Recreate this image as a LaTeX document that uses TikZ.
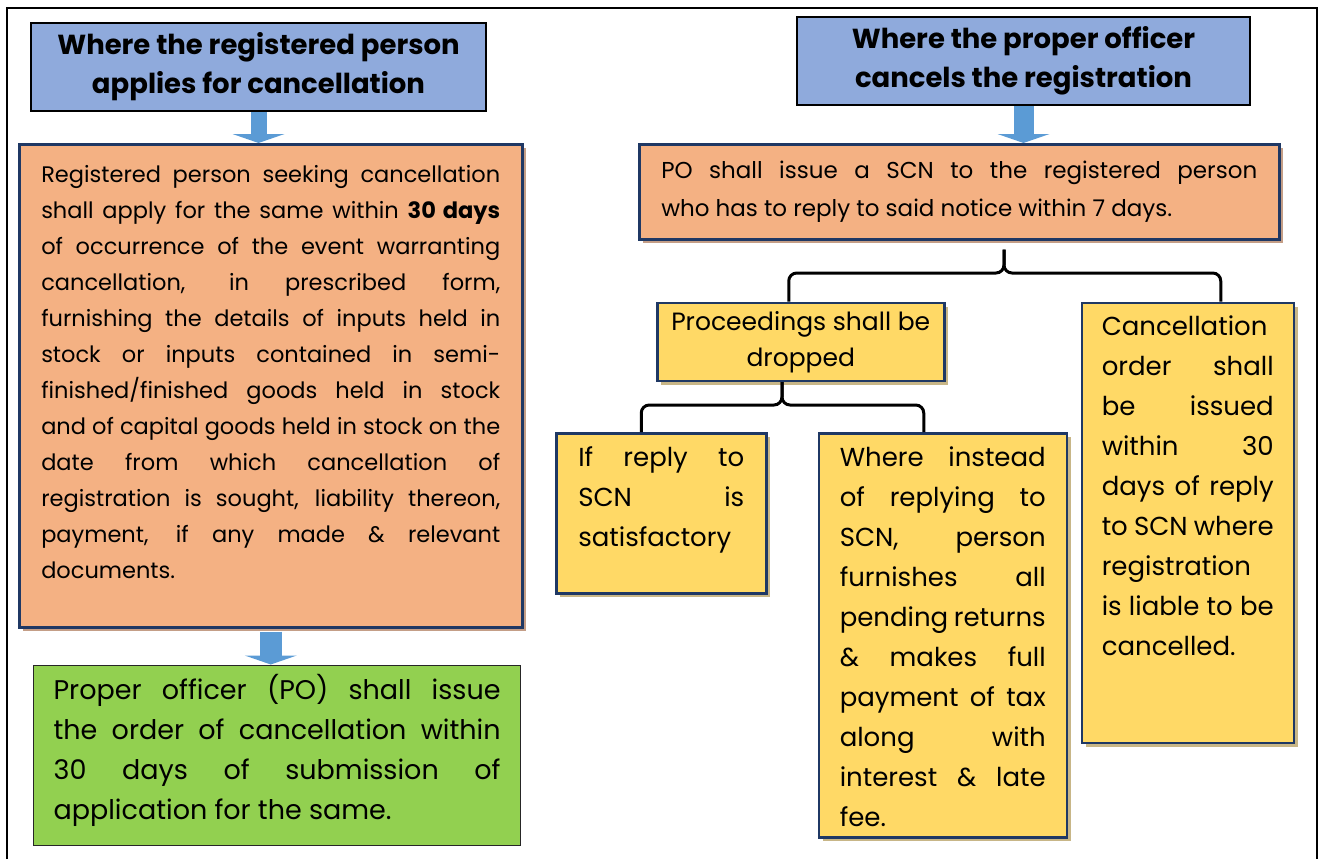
\documentclass[tikz,border=0pt]{standalone}
\usepackage{fontspec}
\setmainfont{Poppins}
\usepackage{tikz}
\usetikzlibrary{
  arrows.meta,
  positioning,
  calc,
  shadows
}
\definecolor{titleblue}{RGB}{143, 170, 220}
\definecolor{stepsalmon}{RGB}{244, 177, 131}
\definecolor{ordergreen}{RGB}{146, 208, 80}
\definecolor{caseyellow}{RGB}{255, 217, 102}
\definecolor{edgenavy}{RGB}{31, 56, 100}
\definecolor{flowblue}{RGB}{91, 155, 213}
\definecolor{shadesalmon}{RGB}{196, 158, 135}
\definecolor{shadeyellow}{RGB}{200, 182, 135}
\newcommand{\bodytext}{\fontsize{22.5}{36}\selectfont}
\newcommand{\bigtext}{\fontsize{26}{40}\selectfont}
\newcommand{\toptext}[3]{\parbox[c][#2][t]{#1}{\strut #3}}
\tikzset{
  headbox/.style = {
    rectangle, draw=black, line width=2pt,
    fill=titleblue, anchor=north west,
    align=center, font=\fontsize{27.5}{39}\selectfont\bfseries
  },
  stepbox/.style = {
    rectangle, draw=edgenavy, line width=2.5pt,
    fill=stepsalmon, anchor=north west, font=\bodytext,
    inner xsep=22pt,
    drop shadow={shadow xshift=4pt, shadow yshift=-4pt,
                 fill=shadesalmon, opacity=1}
  },
  casebox/.style = {
    rectangle, draw=edgenavy, line width=2.5pt,
    fill=caseyellow, anchor=north west, font=\bigtext,
    inner xsep=22pt, inner ysep=5pt,
    drop shadow={shadow xshift=4pt, shadow yshift=-4pt,
                 fill=shadeyellow, opacity=1}
  },
  orderbox/.style = {
    rectangle, draw=black!85, line width=1.2pt,
    fill=ordergreen, anchor=north west,
    font=\fontsize{27}{40}\selectfont,
    inner xsep=20pt, inner ysep=6pt
  },
  flow/.style = {-{Triangle[width=52pt, length=9pt, line width=0pt]},
                 draw=flowblue, line width=#1},
  flow/.default = 18pt,
  brace/.style = {draw=black, line width=3pt, rounded corners=8pt},
  frameline/.style = {draw=black, line width=2.2pt},
}

\begin{document}
\begin{tikzpicture}[x=1pt, y=-1pt]
  \useasboundingbox (0,0) rectangle (1319,859);
  \draw[frameline] (7,859) -- (7,8) -- (1317,8) -- (1317,859);

  %% ── Left column: person applies ────────────────────────────────────────
  \node[headbox, minimum width=455pt, minimum height=88pt] (ttlA) at (30,22)
    {Where the registered person\\applies for cancellation};

  \node[stepbox, inner ysep=13pt,
        below right=31pt and -12pt of ttlA.south west] (stepA)
    {\toptext{459pt}{457pt}{%
     Registered person seeking cancellation\linebreak
     shall apply for the same within \textbf{30 days}\linebreak
     of occurrence of the event warranting\linebreak
     cancellation, in prescribed form,\linebreak
     furnishing the details of inputs held in\linebreak
     stock or inputs contained in semi-\linebreak
     finished/finished goods held in stock\linebreak
     and of capital goods held in stock on the\linebreak
     date from which cancellation of\linebreak
     registration is sought, liability thereon,\linebreak
     payment, if any made \& relevant\linebreak
     documents.}};

  \node[orderbox, below right=36pt and 15pt of stepA.south west] (grnA)
    {\toptext{447pt}{168pt}{%
     Proper officer (PO) shall issue\linebreak
     the order of cancellation within\linebreak
     30 days of submission of\linebreak
     application for the same.}};

  %% ── Right column: officer cancels ──────────────────────────────────────
  \node[headbox, minimum width=453pt, minimum height=88pt] (ttlB) at (796,16)
    {Where the proper officer\\cancels the registration};

  \node[stepbox, text width=596pt, align=justify, minimum height=95pt,
        font=\fontsize{23}{38}\selectfont,
        below right=37pt and -158pt of ttlB.south west] (stepB)
    {\parfillskip=0pt
     PO shall issue a SCN to the registered person\linebreak
     who has to reply to said notice within 7 days.};

  \node[casebox, align=center, minimum width=287pt, minimum height=78pt,
        font=\fontsize{25}{36}\selectfont, inner xsep=6pt, inner ysep=2pt,
        below right=61pt and 18pt of stepB.south west] (dropBox)
    {Proceedings shall be\\dropped};

  \node[casebox, inner xsep=20pt,
        below right=0pt and 135pt of dropBox.north east] (cancBox)
    {\toptext{172pt}{430pt}{%
     Cancellation\linebreak
     order shall\linebreak
     be issued\linebreak
     within 30\linebreak
     days of reply\linebreak
     to SCN where\linebreak
     registration\linebreak
     is liable to be\linebreak
     cancelled.}};

  \node[casebox, below right=50pt and -101pt of dropBox.south west] (okBox)
    {\toptext{166pt}{150pt}{%
     If reply to\linebreak
     SCN is\linebreak
     satisfactory}};

  \node[casebox, inner xsep=21pt,
        below right=0pt and 50pt of okBox.north east] (paidBox)
    {\toptext{206pt}{394pt}{%
     Where instead\linebreak
     of replying to\linebreak
     SCN, person\linebreak
     furnishes all\linebreak
     pending returns\linebreak
     \& makes full\linebreak
     payment of tax\linebreak
     along with\linebreak
     interest \& late\linebreak
     fee.}};

  %% ── Arrows and braces ──────────────────────────────────────────────────
  \draw[flow=16pt] (ttlA.south) -- (ttlA.south |- stepA.north);
  \draw[flow=22pt, shorten <=3pt] (stepA.south) -- (stepA.south |- grnA.north);
  \draw[flow=20pt] (ttlB.south) -- (ttlB.south |- stepB.north);

  \coordinate (forkA) at (1004,273);
  \coordinate (forkB) at (782,405);
  \draw[brace, shorten <=9pt] (stepB.south -| forkA) -- (forkA)
    -| ([xshift=-12pt]dropBox.north);
  \draw[brace, shorten <=9pt] (stepB.south -| forkA) -- (forkA)
    -| ([xshift=33pt]cancBox.north);
  \draw[brace] (dropBox.south -| forkB) -- (forkB)
    -| ([xshift=-20pt]okBox.north);
  \draw[brace] (dropBox.south -| forkB) -- (forkB)
    -| ([xshift=-19pt]paidBox.north);

\end{tikzpicture}
\end{document}
